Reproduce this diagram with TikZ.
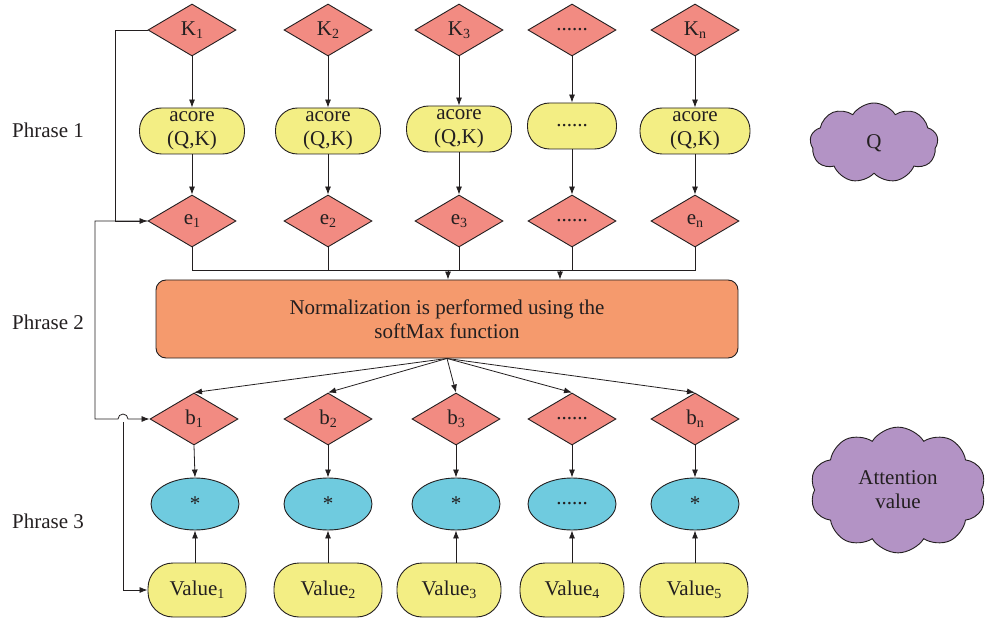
\documentclass[tikz,border=0pt]{standalone}
\usepackage{fontspec}
\setmainfont{Liberation Serif}
\usetikzlibrary{shapes.geometric,shapes.symbols,arrows.meta}
\definecolor{dia}{HTML}{F28B82}
\definecolor{yel}{HTML}{F3EE84}
\definecolor{cya}{HTML}{6FCBDF}
\definecolor{ora}{HTML}{F59A6D}
\definecolor{pur}{HTML}{B393C5}
\definecolor{ink}{HTML}{231F20}
\newcommand{\sbs}[1]{\raisebox{-0.3ex}{\fontsize{14}{14}\selectfont #1}}
\begin{document}
\begin{tikzpicture}[x=1pt,y=-1pt,
  every node/.style={font=\fontsize{21}{24}\selectfont, text=ink},
  dnode/.style={diamond, draw=ink, line width=0.9pt, fill=dia, minimum width=88pt, minimum height=52pt, inner sep=0pt},
  pill/.style={rectangle, rounded corners=22pt, draw=ink, line width=0.9pt, fill=yel, minimum width=105pt, minimum height=46pt, inner sep=0pt, align=center},
  vpill/.style={rectangle, rounded corners=25pt, draw=ink, line width=0.9pt, fill=yel, minimum width=98pt, minimum height=54pt, inner sep=0pt},
  enode/.style={ellipse, draw=ink, line width=0.9pt, fill=cya, minimum width=88pt, minimum height=52pt, inner sep=0pt},
  cl/.style={cloud, cloud puff arc=115, draw=ink, line width=0.9pt, fill=pur, align=center, inner sep=0pt},
  arr/.style={draw=ink, line width=0.8pt, -{Latex[length=8pt,width=6pt]}},
  ln/.style={draw=ink, line width=0.8pt}]
\useasboundingbox (0,0) rectangle (988,620);

% phrase labels
\node (p1) at (48,130) {Phrase 1};
\node (p2) at (48,322) {Phrase 2};
\node (p3) at (48,521) {Phrase 3};

% K row
\node[dnode] (k1) at (192,30) {K\sbs{1}};
\node[dnode] (k2) at (328,30) {K\sbs{2}};
\node[dnode] (k3) at (459,30) {K\sbs{3}};
\node[dnode] (k4) at (572,30) {......};
\node[dnode] (k5) at (695,30) {K\sbs{n}};

% acore row
\node[pill] (a1) at (192,131) {acore\\(Q,K)};
\node[pill] (a2) at (328,131) {acore\\(Q,K)};
\node[pill] (a3) at (459,129) {acore\\(Q,K)};
\node[pill, minimum width=89pt] (a4) at (572,126) {......};
\node[pill, minimum width=110pt] (a5) at (695,131) {acore\\(Q,K)};

% e row
\node[dnode] (e1) at (192,221) {e\sbs{1}};
\node[dnode] (e2) at (328,221) {e\sbs{2}};
\node[dnode] (e3) at (459,221) {e\sbs{3}};
\node[dnode] (e4) at (572,221) {......};
\node[dnode] (e5) at (695,221) {e\sbs{n}};

% normalization
\node[rectangle, rounded corners=10pt, draw=ink, line width=0.9pt, fill=ora, minimum width=582pt, minimum height=78pt, align=center] (norm) at (447,319) {Normalization is performed using the\\softMax function};

% b row
\node[dnode] (b1) at (194,419) {b\sbs{1}};
\node[dnode] (b2) at (328,419) {b\sbs{2}};
\node[dnode] (b3) at (456,419) {b\sbs{3}};
\node[dnode] (b4) at (572,419) {......};
\node[dnode] (b5) at (695,419) {b\sbs{n}};

% ellipse row
\node[enode] (c1) at (195,504) {*};
\node[enode] (c2) at (328,504) {*};
\node[enode] (c3) at (456,504) {*};
\node[enode] (c4) at (572,504) {......};
\node[enode] (c5) at (695,504) {*};

% value row
\node[vpill] (v1) at (197,590) {Value\sbs{1}};
\node[vpill, minimum width=108pt] (v2) at (328,590) {Value\sbs{2}};
\node[vpill, minimum width=104pt] (v3) at (449,590) {Value\sbs{3}};
\node[vpill, minimum width=104pt] (v4) at (572,590) {Value\sbs{4}};
\node[vpill, minimum width=108pt] (v5) at (694,590) {Value\sbs{5}};

% clouds
\node[cl, cloud puffs=9, minimum width=128pt, minimum height=80pt] (q) at (874,143) {Q};
\node[cl, cloud puffs=10, minimum width=176pt, minimum height=114pt] (att) at (898,490) {Attention\\value};

% vertical arrows
\foreach \i in {1,...,5} {
  \draw[arr] (k\i.south) -- (a\i.north);
  \draw[arr] (a\i.south) -- (e\i.north);
  \draw[arr] (b\i.south) -- (c\i.north);
  \draw[arr] (c\i.south |- v\i.north) -- (c\i.south);
}

% bus
\coordinate (busL) at (192,270);
\coordinate (busR) at (695,270);
\coordinate (t1) at (448,270);
\coordinate (t2) at (560,270);
\draw[ln] (e1.south) -- (busL) -- (busR) -- (e5.south);
\foreach \i in {2,3,4} { \draw[ln] (e\i.south) -- (e\i.south |- busL); }
\draw[arr] (t1) -- (t1 |- norm.north);
\draw[arr] (t2) -- (t2 |- norm.north);

% fan
\foreach \i in {1,...,5} { \draw[arr] (norm.south) -- (b\i.north); }

% left loops
\coordinate (lk) at (115,30);
\coordinate (le) at (95,221);
\coordinate (hop) at (118,419);
\coordinate (lv) at (123,422);
\draw[arr] (k1.west) -- (lk) |- (e1.west);
\draw[arr] (e1.west) -- (le) |- (hop) arc[start angle=180, end angle=0, radius=5pt] -- (b1.west);
\draw[arr] (lv) |- (v1.west);
\end{tikzpicture}
\end{document}
